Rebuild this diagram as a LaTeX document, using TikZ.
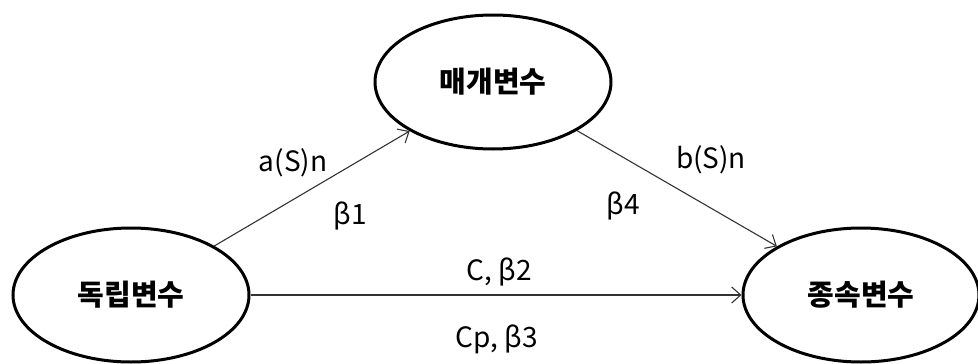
\documentclass[tikz,border=0pt]{standalone}
\usepackage{fontspec}
\setmainfont{Noto Sans CJK KR}
\usepackage{tikz}
\usetikzlibrary{
    arrows.meta,
    positioning,
    shapes.geometric
}

\begin{document}
\begin{tikzpicture}[x=1pt,y=-1pt,
   var/.style={ellipse,draw,line width=3pt,minimum width=236pt,minimum height=134pt,inner sep=0pt,font=\fontsize{29}{31}\selectfont\bfseries},
   lbl/.style={inner sep=0pt,font=\fontsize{28}{30}\selectfont},
   link/.style={draw=black!80,line width=1.1pt,-{Straight Barb[length=9pt,width=16pt]}}]
  \useasboundingbox (0,0) rectangle (978,364);
  % three variables
  \node[var](indep) at (131,295){독립변수};
  \node[var](med) at (493,82){매개변수};
  \node[var](dep) at (861,295){종속변수};
  % paths
  \draw[link] (indep)--(med);
  \draw[link] (med)--(dep);
  \draw[link] (indep)--(dep);
  % coefficients
  \node[lbl](la) at (293,163){a(S)n};
  \node[lbl](lb1) at (350,216){β1};
  \node[lbl](lb) at (711,160){b(S)n};
  \node[lbl](lb4) at (623,206){β4};
  \node[lbl](lc) at (499,272){C, β2};
  \node[lbl](lcp) at (497,339){Cp, β3};
\end{tikzpicture}
\end{document}
